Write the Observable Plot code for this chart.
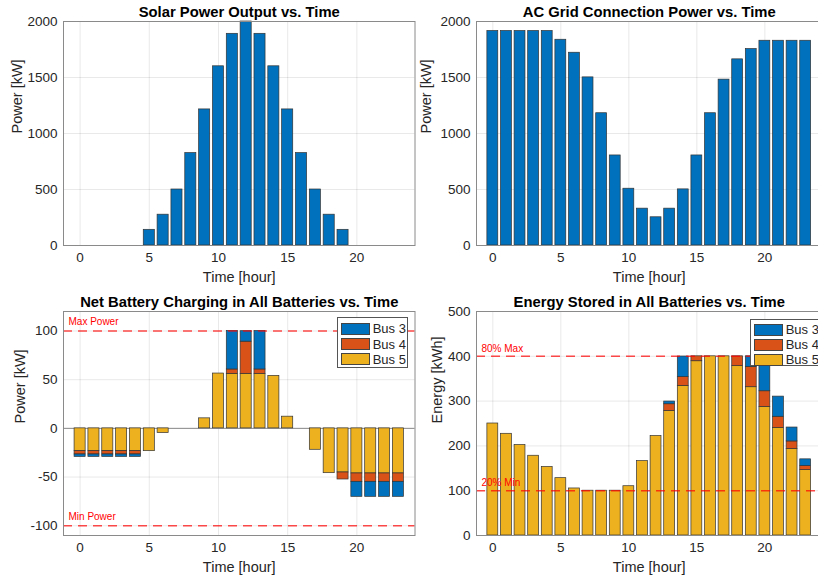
<!DOCTYPE html>
<html>
<head>
<meta charset="utf-8">
<script src="https://cdn.jsdelivr.net/npm/d3@7"></script>
<script src="https://cdn.jsdelivr.net/npm/@observablehq/plot@0.6"></script>
<style>
  html, body { margin: 0; padding: 0; background: #fff; }
  #root { position: relative; width: 818px; height: 578px; overflow: hidden; background: #fff;
          font-family: "Liberation Sans", Arial, Helvetica, sans-serif; }
  .panel { position: absolute; }
  .legend { position: absolute; background: #fff; border: 1px solid #555; box-sizing: border-box;
            font-family: "Liberation Sans", Arial, Helvetica, sans-serif; font-size: 13px; color: #262626; }
  .legend .row { position: absolute; height: 14px; display: flex; align-items: center; white-space: nowrap; }
  .legend .sw { width: 29px; height: 12px; border: 1px solid #444; box-sizing: border-box; margin-right: 3px; }
</style>
</head>
<body>
<div id="root"></div>
<script>
// ---------- data ----------
const hours = [0,1,2,3,4,5,6,7,8,9,10,11,12,13,14,15,16,17,18,19,20,21,22,23];
const xTicks = [0, 5, 10, 15, 20];

const solarKW = [0,0,0,0,0,140,275,500,825,1215,1600,1890,2000,1890,1600,1215,825,500,275,140,0,0,0,0];
const gridKW  = [1915,1915,1915,1915,1915,1837,1721,1501,1181,804,507,329,252,329,501,804,1181,1481,1662,1754,1828,1828,1828,1828];

const buses = ["Bus 3", "Bus 4", "Bus 5"];
const busColors = ["#0072BD", "#D95319", "#EDB120"];

const chargeBus5 = [-23.4,-23.4,-23.4,-23.4,-23.4,-23.4,-4.8,0,0,10.3,56.3,56,56,56,53.9,12,0,-22,-46,-45.3,-46.3,-46.3,-46.3,-46.3];
const chargeBus4 = [-3.4,-3.4,-3.4,-3.4,-3.4,0,0,0,0,0,0,4.5,33,4.5,0,0,0,0,0,-7.2,-8.6,-8.6,-8.6,-8.6];
const chargeBus3 = [-2.5,-2.5,-2.5,-2.5,-2.5,0,0,0,0,0,0,39.5,10.8,39.5,0,0,0,0,0,0,-15.4,-15.4,-15.4,-15.4];

const energyBus5 = [250,227,202,178,153,128,105,100,100,100,110,166,222,278,334,389,400,400,378,331,287,240,193,146];
const energyBus4 = [0,0,0,0,0,0,0,0,0,0,0,0,0,15,19.5,11,0,0,22,45,35,25,17,9];
const energyBus3 = [0,0,0,0,0,0,0,0,0,0,0,0,0,6,46,0,0,0,0,24,60,45,31,15];

const powerLimits = [{v: 100, label: "Max Power"}, {v: -100, label: "Min Power"}];
const energyLimits = [{v: 400, label: "80% Max"}, {v: 100, label: "20% Min"}];

// ---------- helpers ----------
const FONT = '"Liberation Sans", Arial, Helvetica, sans-serif';
const TXT = "#262626";
const halfW = 0.4;

function single(values) {
  return hours.map((h, i) => ({t: h, v: values[i]}));
}
function stacked(b5, b4, b3) {
  const rows = [];
  hours.forEach((h, i) => {
    rows.push({t: h, v: b5[i], bus: "Bus 5"});
    rows.push({t: h, v: b4[i], bus: "Bus 4"});
    rows.push({t: h, v: b3[i], bus: "Bus 3"});
  });
  return rows;
}

function panel({left, top, width, marginLeft, marginTop, marginBottom, yDomain, yTicks, ylabel, yLabelDx, title, marks}) {
  const height = 289;
  const chart = Plot.plot({
    width, height,
    marginLeft, marginRight: 0.5, marginTop, marginBottom,
    style: {fontFamily: FONT, fontSize: "13.5px", color: TXT, background: "transparent", overflow: "visible"},
    x: {domain: [-1.2, 24.2], ticks: xTicks, grid: true, tickSize: 0, tickPadding: 7, label: null, tickFormat: d => `${d}`},
    y: {domain: yDomain, ticks: yTicks, grid: true, tickSize: 0, tickPadding: 6, label: null, tickFormat: d => `${d}`},
    color: {domain: buses, range: busColors},
    marks: [
      ...marks,
      Plot.frame({stroke: "#8a8a8a", strokeWidth: 1}),
      Plot.text([title], {frameAnchor: "top", lineAnchor: "bottom", dy: -5,
        fontWeight: "bold", fontSize: 14.8, fill: "#000"}),
      Plot.text(["Time [hour]"], {frameAnchor: "bottom", lineAnchor: "middle", dy: 31.5, fontSize: 14.5, fill: TXT}),
      Plot.text([ylabel], {frameAnchor: "left", lineAnchor: "middle", rotate: -90, dx: yLabelDx, fontSize: 14.5, fill: TXT})
    ]
  });
  const div = document.createElement("div");
  div.className = "panel";
  div.style.left = left + "px";
  div.style.top = top + "px";
  div.style.width = width + "px";
  div.appendChild(chart);
  document.getElementById("root").appendChild(div);
}

function legend(left, top, width, height, rowTops) {
  const div = document.createElement("div");
  div.className = "legend";
  Object.assign(div.style, {left: left + "px", top: top + "px", width: width + "px", height: height + "px"});
  buses.forEach((b, i) => {
    const row = document.createElement("div");
    row.className = "row";
    row.style.left = "3px";
    row.style.top = rowTops[i] + "px";
    const sw = document.createElement("div");
    sw.className = "sw";
    sw.style.background = busColors[i];
    const lab = document.createElement("span");
    lab.textContent = b;
    row.appendChild(sw);
    row.appendChild(lab);
    div.appendChild(row);
  });
  document.getElementById("root").appendChild(div);
}

const barOpts = {x1: d => d.t - halfW, x2: d => d.t + halfW, y: "v", stroke: "#333", strokeWidth: 0.7, filter: d => d.v !== 0};

// ---------- panel 1: solar ----------
panel({
  left: 0, top: 0, width: 415, marginLeft: 63, marginTop: 21, marginBottom: 44,
  yDomain: [0, 2000], yTicks: [0, 500, 1000, 1500, 2000],
  ylabel: "Power [kW]", yLabelDx: -46, title: "Solar Power Output vs. Time",
  marks: [Plot.rectY(single(solarKW), {...barOpts, fill: "#0072BD"})]
});

// ---------- panel 2: grid ----------
panel({
  left: 409, top: 0, width: 413, marginLeft: 67, marginTop: 21, marginBottom: 44,
  yDomain: [0, 2000], yTicks: [0, 500, 1000, 1500, 2000],
  ylabel: "Power [kW]", yLabelDx: -50, title: "AC Grid Connection Power vs. Time",
  marks: [Plot.rectY(single(gridKW), {...barOpts, fill: "#0072BD"})]
});

// ---------- panel 3: net charging ----------
panel({
  left: 0, top: 289, width: 415, marginLeft: 63, marginTop: 22, marginBottom: 43,
  yDomain: [-110, 120], yTicks: [-100, -50, 0, 50, 100],
  ylabel: "Power [kW]", yLabelDx: -43, title: "Net Battery Charging in All Batteries vs. Time",
  marks: [
    Plot.ruleY([0], {stroke: "#8a8a8a", strokeWidth: 1}),
    Plot.rectY(stacked(chargeBus5, chargeBus4, chargeBus3), {...barOpts, fill: "bus"}),
    Plot.ruleY(powerLimits, {y: "v", stroke: "#ff0000", strokeOpacity: 0.7, strokeWidth: 1.5, strokeDasharray: "9,6"}),
    Plot.text(powerLimits, {y: "v", text: "label", frameAnchor: "left", textAnchor: "start", dx: 5, dy: -9, fill: "#ff0000", fontSize: 10})
  ]
});
legend(336.7, 317.3, 71.5, 50.4, [3.5, 18.8, 34]);

// ---------- panel 4: energy ----------
panel({
  left: 409, top: 289, width: 413, marginLeft: 67, marginTop: 22, marginBottom: 43,
  yDomain: [0, 500], yTicks: [0, 100, 200, 300, 400, 500],
  ylabel: "Energy [kWh]", yLabelDx: -38.7, title: "Energy Stored in All Batteries vs. Time",
  marks: [
    Plot.rectY(stacked(energyBus5, energyBus4, energyBus3), {...barOpts, fill: "bus"}),
    Plot.ruleY(energyLimits, {y: "v", stroke: "#ff0000", strokeOpacity: 0.7, strokeWidth: 1.5, strokeDasharray: "9,6"}),
    Plot.text(energyLimits, {y: "v", text: "label", frameAnchor: "left", textAnchor: "start", dx: 5, dy: -8, fill: "#ff0000", fontSize: 10})
  ]
});
legend(749.7, 319, 75, 47.3, [2.5, 17.5, 32.5]);
</script>
</body>
</html>
